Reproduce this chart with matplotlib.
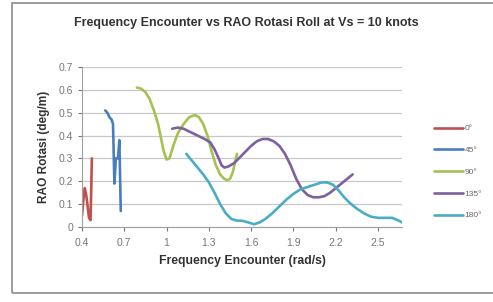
import matplotlib
matplotlib.use("Agg")
import matplotlib.pyplot as plt
from matplotlib.patches import Rectangle

# ---- data ----
x_0 = [0.40, 0.41, 0.42, 0.43, 0.44, 0.45, 0.46, 0.465, 0.47]
y_0 = [0.05, 0.12, 0.17, 0.14, 0.09, 0.04, 0.03, 0.15, 0.30]

x_45 = [0.565, 0.58, 0.595, 0.61, 0.62, 0.63, 0.64, 0.655, 0.665, 0.675]
y_45 = [0.51, 0.50, 0.48, 0.47, 0.45, 0.19, 0.30, 0.30, 0.38, 0.07]

x_90 = [0.79, 0.82, 0.85, 0.88, 0.91, 0.94, 0.96, 0.98, 1.00, 1.02, 1.05,
        1.08, 1.12, 1.16, 1.20, 1.23, 1.26, 1.29, 1.32, 1.35, 1.38, 1.41,
        1.43, 1.45, 1.47, 1.50]
y_90 = [0.61, 0.605, 0.59, 0.56, 0.51, 0.45, 0.39, 0.33, 0.295, 0.30, 0.36,
        0.41, 0.45, 0.48, 0.49, 0.48, 0.45, 0.40, 0.33, 0.27, 0.23, 0.21,
        0.205, 0.21, 0.24, 0.32]

x_135 = [1.04, 1.08, 1.12, 1.17, 1.22, 1.27, 1.31, 1.34, 1.37, 1.39, 1.41,
         1.44, 1.48, 1.52, 1.56, 1.60, 1.64, 1.68, 1.72, 1.76, 1.80, 1.84,
         1.88, 1.92, 1.96, 2.00, 2.04, 2.08, 2.12, 2.16, 2.20, 2.24, 2.28,
         2.32]
y_135 = [0.43, 0.435, 0.43, 0.415, 0.40, 0.385, 0.37, 0.34, 0.30, 0.27, 0.26,
         0.265, 0.28, 0.305, 0.33, 0.355, 0.375, 0.385, 0.385, 0.375, 0.355,
         0.32, 0.27, 0.21, 0.165, 0.14, 0.13, 0.13, 0.135, 0.15, 0.17, 0.19,
         0.21, 0.23]

x_180 = [1.14, 1.18, 1.22, 1.26, 1.30, 1.34, 1.38, 1.42, 1.46, 1.50, 1.54,
         1.58, 1.62, 1.66, 1.70, 1.75, 1.80, 1.85, 1.90, 1.95, 2.00, 2.05,
         2.10, 2.14, 2.18, 2.22, 2.26, 2.30, 2.35, 2.40, 2.45, 2.50, 2.55,
         2.60, 2.64, 2.67]
y_180 = [0.32, 0.29, 0.26, 0.23, 0.195, 0.15, 0.10, 0.06, 0.035, 0.028,
         0.027, 0.02, 0.012, 0.02, 0.035, 0.06, 0.09, 0.12, 0.145, 0.165,
         0.175, 0.185, 0.195, 0.195, 0.185, 0.16, 0.13, 0.105, 0.08, 0.06,
         0.045, 0.04, 0.04, 0.04, 0.03, 0.02]

series = [
    ("0°", x_0, y_0, "#C0504D"),
    ("45°", x_45, y_45, "#4A7EBB"),
    ("90°", x_90, y_90, "#A4C152"),
    ("135°", x_135, y_135, "#7D60A0"),
    ("180°", x_180, y_180, "#4BACC6"),
]

x_ticks = [0.4, 0.7, 1.0, 1.3, 1.6, 1.9, 2.2, 2.5]
x_tick_labels = ["0.4", "0.7", "1", "1.3", "1.6", "1.9", "2.2", "2.5"]
y_ticks = [0, 0.1, 0.2, 0.3, 0.4, 0.5, 0.6, 0.7]
y_tick_labels = ["0", "0.1", "0.2", "0.3", "0.4", "0.5", "0.6", "0.7"]

# ---- figure ----
plt.rcParams['font.family'] = ['Liberation Sans', 'DejaVu Sans']
fig = plt.figure(figsize=(4.93, 3.02), dpi=100)
fig.patch.set_facecolor("white")

# outer chart border
fig.patches.append(Rectangle((12 / 493, 1 - 293 / 302), 1.0, (293 - 3) / 302,
                             transform=fig.transFigure, fill=False,
                             edgecolor="#8c8c8c", linewidth=1.2))

ax = fig.add_axes([82 / 493, 1 - 227 / 302, (402 - 82) / 493, (227 - 67) / 302])
for name, xs, ys, c in series:
    ax.plot(xs, ys, color=c, linewidth=1.9, label=name,
            solid_capstyle="round", solid_joinstyle="round")

ax.set_xlim(0.4, 2.67)
ax.set_ylim(0, 0.7)
ax.set_xticks(x_ticks)
ax.set_xticklabels(x_tick_labels)
ax.set_yticks(y_ticks)
ax.set_yticklabels(y_tick_labels)
ax.tick_params(axis="both", labelsize=7.5, colors="#777777", length=3,
               width=0.8, direction="out")
ax.tick_params(axis="x", pad=5)
ax.grid(axis="y", color="#c8c8c8", linewidth=0.9)
ax.set_axisbelow(True)
for s in ["top", "right"]:
    ax.spines[s].set_visible(False)
ax.spines["left"].set_color("#a0a0a0")
ax.spines["bottom"].set_color("#a0a0a0")

ax.set_xlabel("Frequency Encounter (rad/s)", fontsize=8.8, fontweight="bold",
              color="#333333", labelpad=5)
ax.set_ylabel("RAO Rotasi (deg/m)", fontsize=8.6, fontweight="bold",
              color="#333333", labelpad=6)
fig.text(246 / 493, 1 - 23 / 302,
         "Frequency Encounter vs RAO Rotasi Roll at Vs = 10 knots",
         ha="center", va="center", fontsize=9.0, fontweight="bold",
         color="#333333")

leg = ax.legend(loc="center left", bbox_to_anchor=(426 / 493, 1 - 172 / 302),
                bbox_transform=fig.transFigure, frameon=False, fontsize=6,
                handlelength=3.5, handletextpad=0.2, labelspacing=1.67)
for t in leg.get_texts():
    t.set_color("#666666")

fig.savefig("out.png", dpi=100)
